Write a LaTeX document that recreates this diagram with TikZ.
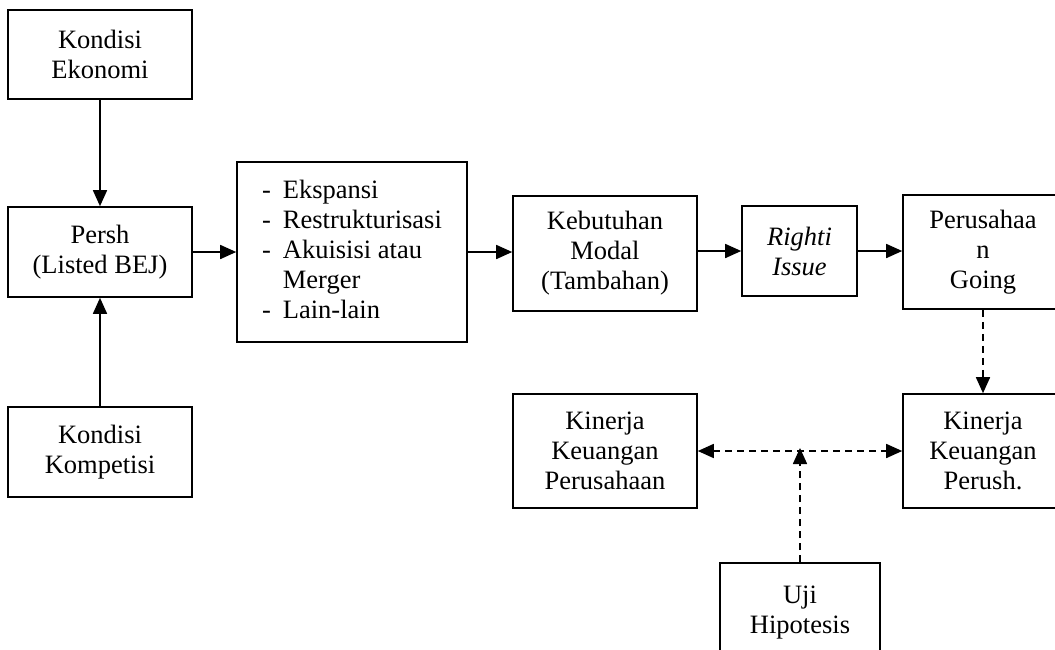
\documentclass[tikz,border=0pt]{standalone}
\usepackage{fontspec}
\setmainfont{Liberation Serif}
\usetikzlibrary{arrows.meta}
\begin{document}
\begin{tikzpicture}[x=1pt,y=-1pt,
  box/.style={draw, line width=1.6pt, align=center, inner sep=0pt,
    font=\fontsize{26.5}{30}\selectfont},
  tip/.style={Triangle[length=16pt,width=14pt]},
  arr/.style={line width=1.6pt, -{Triangle[length=16pt,width=14pt]}},
  darr/.style={arr, dash pattern=on 7pt off 5pt},
  ddarr/.style={line width=1.6pt, dash pattern=on 7pt off 5pt,
    {Triangle[length=16pt,width=14pt]}-{Triangle[length=16pt,width=14pt]}}]
\useasboundingbox (0,0) rectangle (1055,649);
\clip (0,0) rectangle (1055,649);
\fill[white] (0,0) rectangle (1055,649);

\node[box, minimum width=184pt, minimum height=89pt] (ke) at (100,54.5) {Kondisi\\Ekonomi};
\node[box, minimum width=184pt, minimum height=90pt] (persh) at (100,252) {Persh\\(Listed BEJ)};
\node[box, minimum width=184pt, minimum height=90pt] (kk) at (100,452) {Kondisi\\Kompetisi};
\node[box, minimum width=230pt, minimum height=180pt, align=left] (list) at (352,252)
  {\begin{tabular}{@{}l@{\hspace{12pt}}l@{}}-&Ekspansi\\-&Restrukturisasi\\-&Akuisisi atau\\&Merger\\-&Lain-lain\end{tabular}};
\node[box, minimum width=184pt, minimum height=115pt] (keb) at (605,253.5) {Kebutuhan\\Modal\\(Tambahan)};
\node[box, minimum width=115pt, minimum height=90pt] (righti) at (799.5,251) {\itshape Righti\\\itshape Issue};
\node[box, minimum width=160pt, minimum height=114pt] (going) at (983,252) {\raisebox{-6pt}{\begin{tabular}{@{}c@{}}Perusahaa\\n\\Going\end{tabular}}};
\node[box, minimum width=184pt, minimum height=114pt] (kkp) at (605,451) {Kinerja\\Keuangan\\Perusahaan};
\node[box, minimum width=160pt, minimum height=114pt] (kkps) at (983,451) {Kinerja\\Keuangan\\Perush.};
\node[box, minimum width=160pt, minimum height=100pt] (uji) at (800,613) {Uji\\Hipotesis};

\draw[arr] (ke.south) -- (persh.north);
\draw[arr] (kk.north) -- (persh.south);
\draw[arr] (persh.east) -- (persh.east -| list.west);
\draw[arr] (list.east) -- (list.east -| keb.west);
\draw[arr] (keb.east |- righti.west) -- (righti.west);
\draw[arr] (righti.east) -- (righti.east -| going.west);
\draw[darr] (going.south) -- (kkps.north);
\draw[ddarr] (kkp.east) -- (kkps.west);
\draw[darr] (uji.north) -- ([yshift=3pt]uji.north |- kkp.east);
\end{tikzpicture}
\end{document}
